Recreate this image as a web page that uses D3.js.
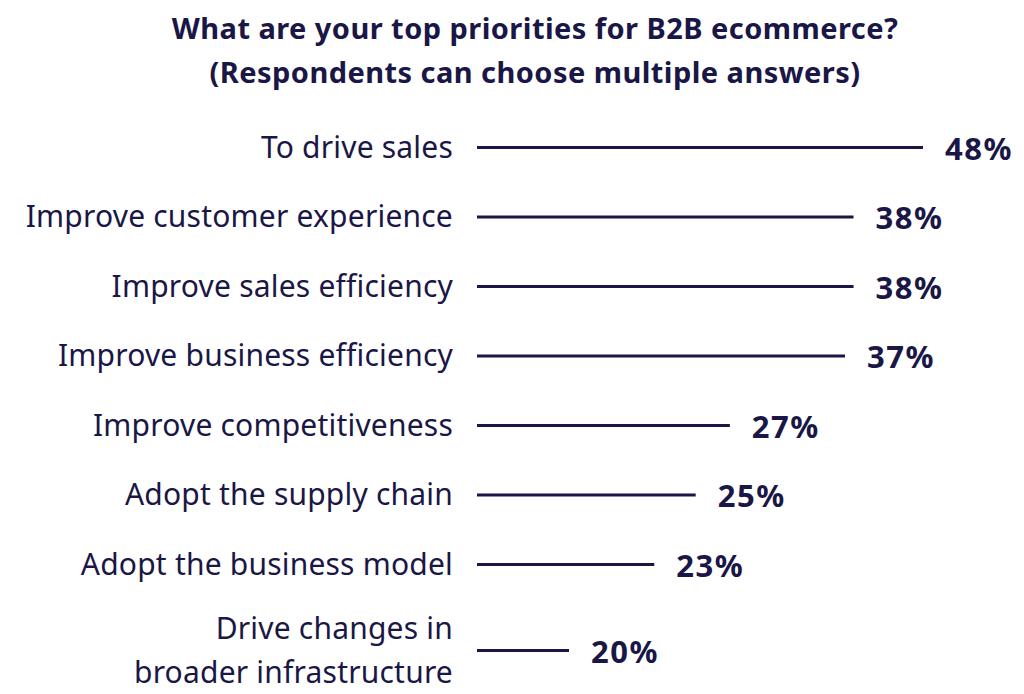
<!DOCTYPE html>
<html>
<head>
<meta charset="utf-8">
<script src="https://cdn.jsdelivr.net/npm/d3@7"></script>
<style>
  html, body { margin: 0; padding: 0; background: #ffffff; }
  svg { display: block; }
</style>
</head>
<body>
<div id="chart"></div>
<script>
// ---- data ----
const titleLines = [
  "What are your top priorities for B2B ecommerce?",
  "(Respondents can choose multiple answers)"
];
const categories = [
  "To drive sales",
  "Improve customer experience",
  "Improve sales efficiency",
  "Improve business efficiency",
  "Improve competitiveness",
  "Adopt the supply chain",
  "Adopt the business model",
  "Drive changes in\nbroader infrastructure"
];
const values = [48, 38, 38, 37, 27, 25, 23, 20];
const valueLabels = ["48%", "38%", "38%", "37%", "27%", "25%", "23%", "20%"];

// ---- layout ----
const W = 1024, H = 694;
const ink = "#1a1747";
const fontStack = "'Noto Sans', 'Open Sans', sans-serif";
const lineStart = 477;
const labelRight = 453;
const firstRowY = 147.5;
const rowStep = 69.5;
const extraLineStep = 16.5;   // extra spacing per additional label line (half on each side)
const labelLineHeight = 44;
const valueOffset = 14.5;     // lines in the source are drawn on a compressed scale

const svg = d3.select("#chart").append("svg")
  .attr("width", W).attr("height", H);

// title
svg.append("g").selectAll("text")
  .data(titleLines)
  .join("text")
  .attr("x", 535)
  .attr("y", (d, i) => 39 + i * 44)
  .attr("text-anchor", "middle")
  .attr("font-family", fontStack)
  .attr("font-weight", 700)
  .attr("font-size", 29)
  .attr("letter-spacing", 0.45)
  .attr("fill", ink)
  .text(d => d);

// rows
const rows = categories.map((c, i) => ({
  lines: c.split("\n"),
  value: values[i],
  label: valueLabels[i]
}));
let acc = firstRowY;
rows.forEach((r, i) => {
  if (i > 0) {
    acc += rowStep + (r.lines.length - 1) * extraLineStep + (rows[i - 1].lines.length - 1) * extraLineStep;
  }
  r.y = acc;
});

const x = d3.scaleLog()
  .domain([d3.min(values) - valueOffset, d3.max(values) - valueOffset])
  .range([lineStart + 92, lineStart + 446]);

const g = svg.append("g");

// category labels
const lab = g.selectAll("text.cat")
  .data(rows)
  .join("text")
  .attr("class", "cat")
  .attr("x", labelRight)
  .attr("text-anchor", "end")
  .attr("font-family", fontStack)
  .attr("font-size", 30)
  .attr("letter-spacing", 0.2)
  .attr("fill", ink);
lab.each(function(d) {
  const n = d.lines.length;
  d3.select(this).selectAll("tspan")
    .data(d.lines)
    .join("tspan")
    .attr("x", labelRight)
    .attr("y", (t, j) => d.y + 10 + (j - (n - 1) / 2) * labelLineHeight)
    .text(t => t);
});

// lines
g.selectAll("line.bar")
  .data(rows)
  .join("line")
  .attr("class", "bar")
  .attr("x1", lineStart)
  .attr("x2", d => x(d.value - valueOffset))
  .attr("y1", d => d.y)
  .attr("y2", d => d.y)
  .attr("stroke", ink)
  .attr("stroke-width", 3);

// value labels
g.selectAll("text.val")
  .data(rows)
  .join("text")
  .attr("class", "val")
  .attr("x", d => x(d.value - valueOffset) + 22)
  .attr("y", d => d.y + 12)
  .attr("font-family", fontStack)
  .attr("font-weight", 700)
  .attr("font-size", 31)
  .attr("letter-spacing", 1.5)
  .attr("fill", ink)
  .text(d => d.label);
</script>
</body>
</html>
